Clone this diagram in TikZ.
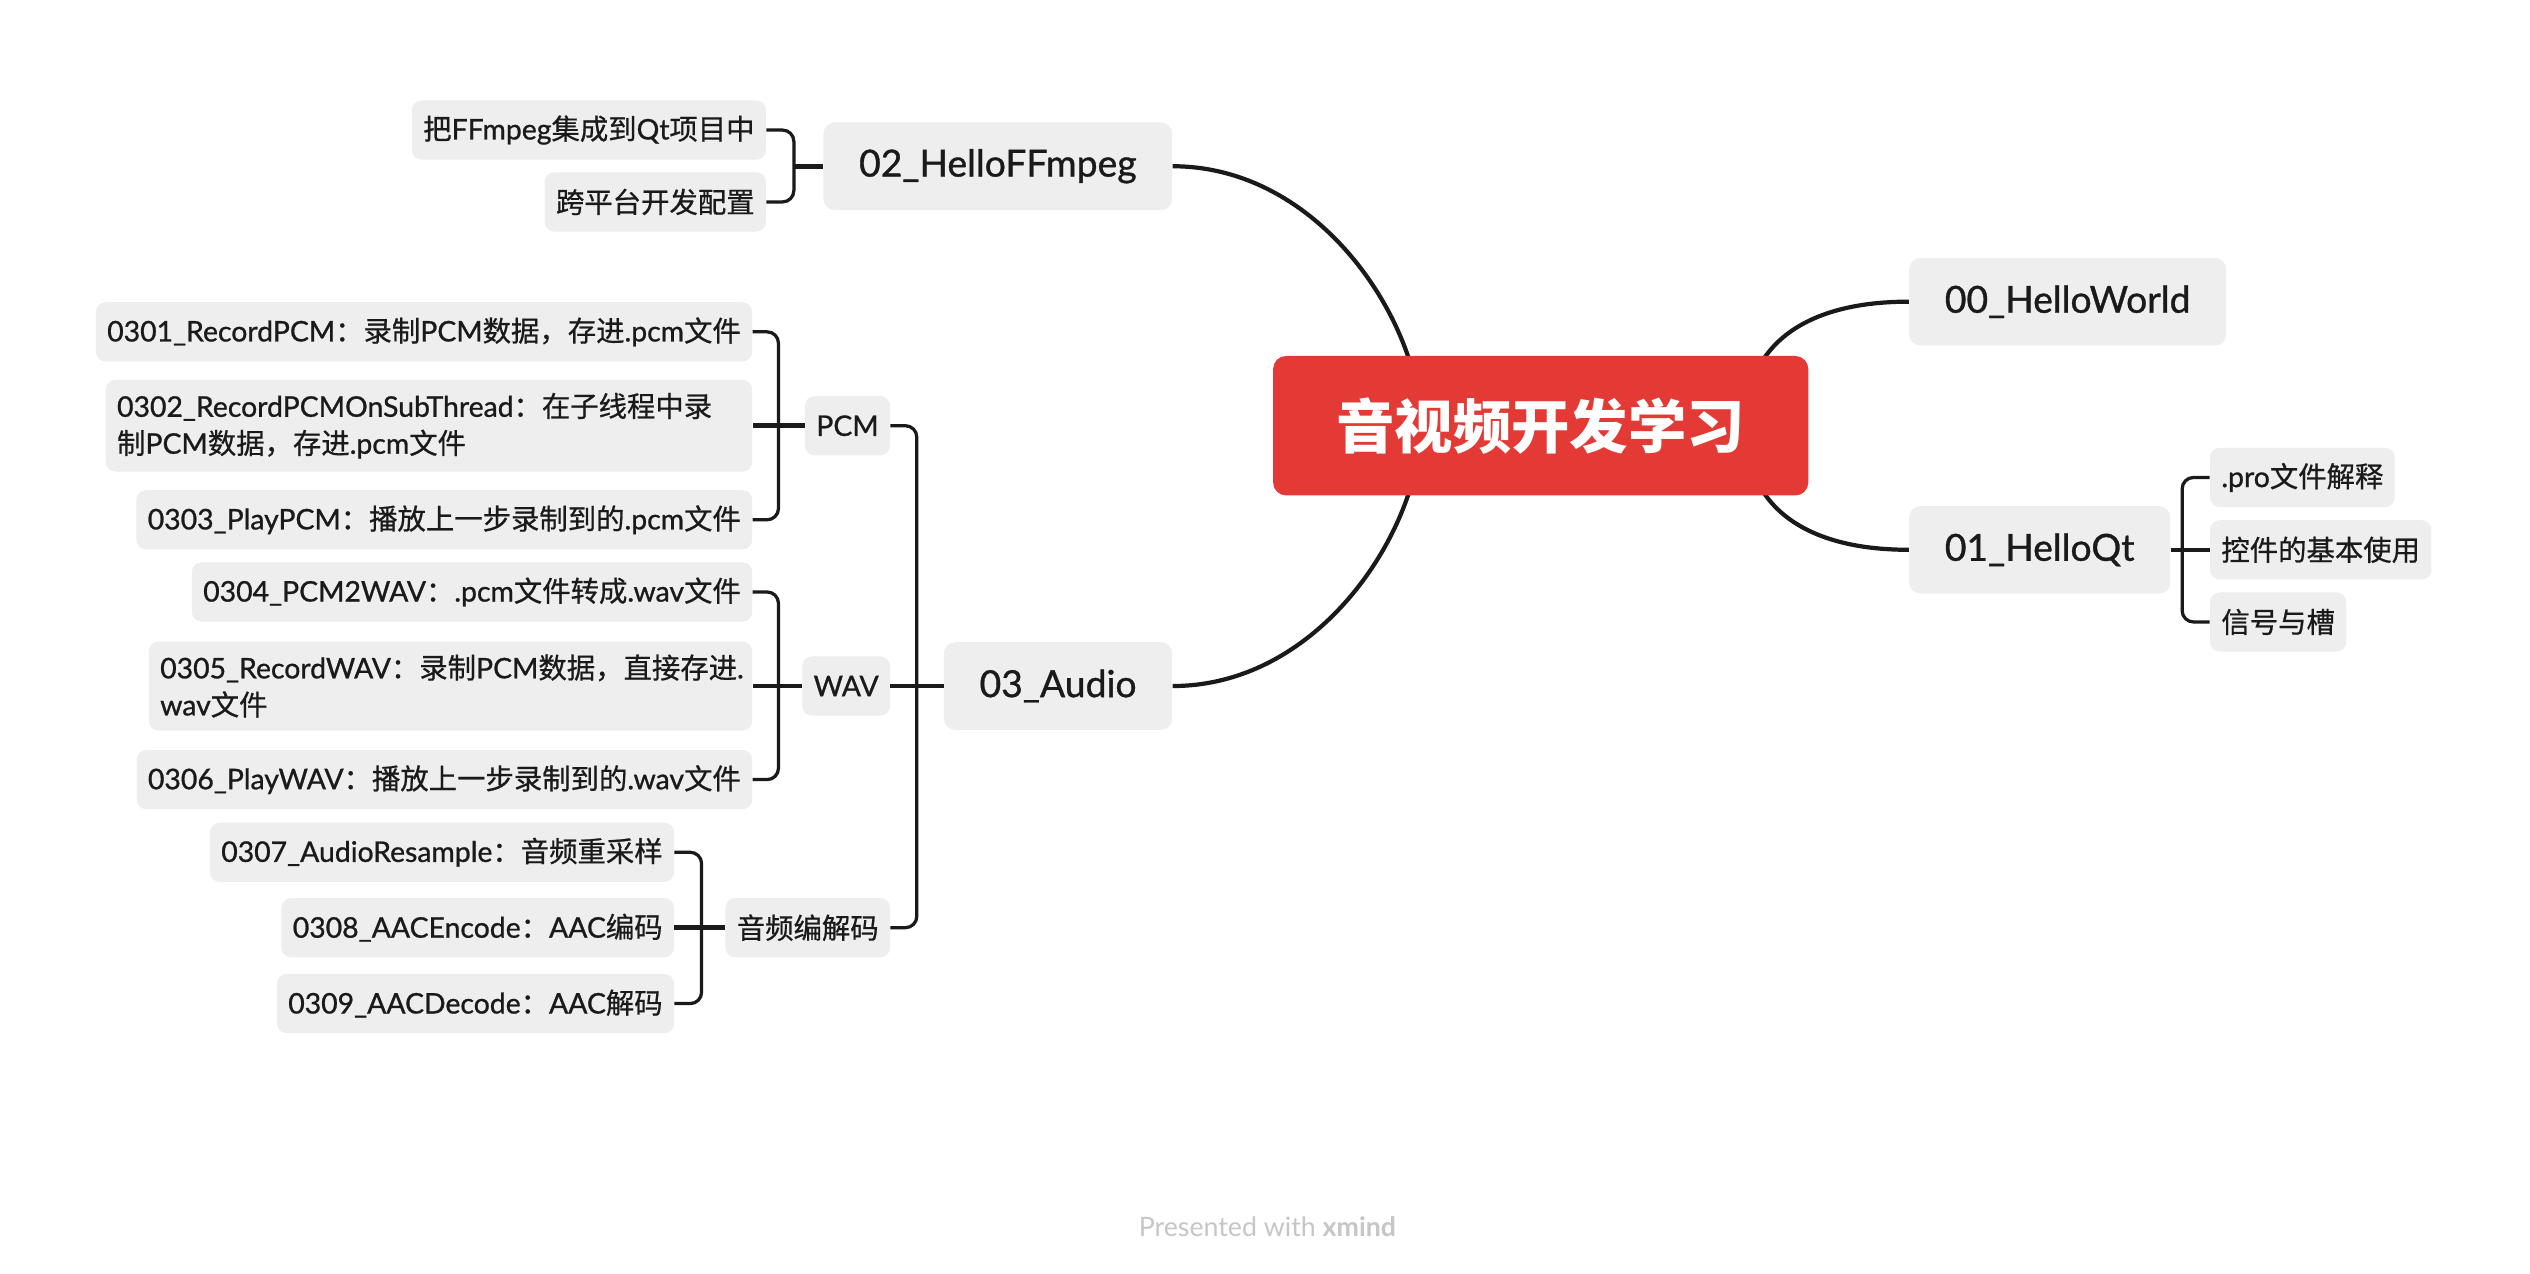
\documentclass[tikz,border=0pt]{standalone}
\usepackage{fontspec}
\setmainfont{Noto Sans CJK SC}[UprightFeatures={FakeBold=0.7}]
\newfontfamily\cjkfont{Noto Sans CJK SC}[UprightFeatures={FakeBold=0.7}]
\newfontfamily\latinfont{Lato}[UprightFeatures={FakeBold=0.9}]
\newfontfamily\footfont{Lato}
\usetikzlibrary{backgrounds}
% CJK characters in Noto, everything else in Lato
\XeTeXinterchartokenstate=1
\newXeTeXintercharclass\cjkchars
\newcount\cjkcnt
\newcommand\setcjkrange[2]{%
  \cjkcnt=#1\relax
  \loop
    \XeTeXcharclass\cjkcnt=\cjkchars
  \ifnum\cjkcnt<#2\relax
    \advance\cjkcnt by 1
  \repeat}
\setcjkrange{"3000}{"303F}
\setcjkrange{"4E00}{"9FFF}
\setcjkrange{"FF00}{"FFEF}
\XeTeXinterchartoks 0 \cjkchars = {\cjkfont}
\XeTeXinterchartoks 4095 \cjkchars = {\cjkfont}
\XeTeXinterchartoks \cjkchars 0 = {\latinfont}
\XeTeXinterchartoks 4095 0 = {\latinfont}
\newcommand\plainlatin{\XeTeXinterchartokenstate=0\relax\footfont}
\definecolor{rootred}{HTML}{E43A36}
\definecolor{boxgray}{HTML}{EEEEEE}
\definecolor{inkblack}{HTML}{1A1A1A}
\definecolor{footgray}{HTML}{C6C6C6}
\tikzset{
  rootbox/.style={fill=rootred, text=white, rounded corners=8pt,
    minimum width=330pt, minimum height=86pt,
    font=\bfseries\fontsize{36}{42}\selectfont},
  topicbox/.style={fill=boxgray, text=inkblack, rounded corners=7pt,
    inner xsep=22pt, inner ysep=0pt, minimum height=54pt,
    font=\fontsize{23}{27}\selectfont},
  leafbox/.style={fill=boxgray, text=inkblack, rounded corners=6pt,
    inner xsep=7pt, inner ysep=8pt, minimum height=36.5pt, align=left,
    font=\fontsize{17.5}{22.8}\selectfont},
  creditline/.style={text=footgray,
    font=\plainlatin\fontsize{16.5}{20}\selectfont},
  branch/.style={draw=inkblack, line width=2.6pt},
  stub/.style={draw=inkblack, line width=2.8pt},
  spine/.style={draw=inkblack, line width=2pt, rounded corners=7pt},
}
\begin{document}
\begin{tikzpicture}[x=1pt,y=-1pt]
  \useasboundingbox (0,0) rectangle (1560,785.5);
  % main topic
  \node[rootbox] (root) at (950,262.5) {音视频开发学习};
  \coordinate (rootL) at (876,262.5);
  \coordinate (rootR) at (1076,262.5);
  % right side
  \node[topicbox, anchor=west] (n00) at (1177,186) {00\_HelloWorld};
  \node[topicbox, anchor=west] (n01) at (1177,339) {01\_HelloQt};
  \node[leafbox, anchor=west] (n0101) at (1362.5,294.4) {.pro文件解释};
  \node[leafbox, anchor=west] (n0102) at (1362.5,339) {控件的基本使用};
  \node[leafbox, anchor=west] (n0103) at (1362.5,383.5) {信号与槽};
  % left side, top
  \node[topicbox, anchor=east] (n02) at (723,102.5) {02\_HelloFFmpeg};
  \node[leafbox, anchor=east] (n0201) at (472.5,80.2) {把FFmpeg集成到Qt项目中};
  \node[leafbox, anchor=east] (n0202) at (472.5,124.5) {跨平台开发配置};
  % left side, audio
  \node[topicbox, anchor=east] (aud) at (723,423) {03\_Audio};
  \node[leafbox, anchor=east] (pcm) at (549,262.5) {PCM};
  \node[leafbox, anchor=east] (wav) at (549,423) {WAV};
  \node[leafbox, anchor=east] (codec) at (549,572) {音频编解码};
  \node[leafbox, anchor=east] (r0301) at (464,204.6) {0301\_RecordPCM：录制PCM数据，存进.pcm文件};
  \node[leafbox, anchor=east, text width=384.6pt] (r0302) at (464,262.5) {0302\_RecordPCMOnSubThread：在子线程中录\\制PCM数据，存进.pcm文件};
  \node[leafbox, anchor=east] (r0303) at (464,320.5) {0303\_PlayPCM：播放上一步录制到的.pcm文件};
  \node[leafbox, anchor=east] (r0304) at (464,365) {0304\_PCM2WAV：.pcm文件转成.wav文件};
  \node[leafbox, anchor=east, text width=358pt] (r0305) at (464,423) {0305\_RecordWAV：录制PCM数据，直接存进.\\wav文件};
  \node[leafbox, anchor=east] (r0306) at (464,480.7) {0306\_PlayWAV：播放上一步录制到的.wav文件};
  \node[leafbox, anchor=east] (r0307) at (415.8,525.5) {0307\_AudioResample：音频重采样};
  \node[leafbox, anchor=east] (r0308) at (415.8,572) {0308\_AACEncode：AAC编码};
  \node[leafbox, anchor=east] (r0309) at (415.8,618.8) {0309\_AACDecode：AAC解码};
  \node[creditline] (credit) at (781.5,756.4) {Presented with \textbf{xmind}};
  % spine points of the brackets
  \coordinate (sp01) at (1345.5,339);
  \coordinate (sp02) at (489.5,102.5);
  \coordinate (spaud) at (565.3,423);
  \coordinate (sppcm) at (480,262.5);
  \coordinate (spwav) at (480,423);
  \coordinate (spcodec) at (432.6,572);
  \begin{scope}[on background layer]
    \fill[white] (0,0) rectangle (1560,785.5);
    \draw[branch] (rootL) .. controls +(0,-62.5) and +(92,0) .. (n02.east);
    \draw[branch] (rootL) .. controls +(0,62.5) and +(92,0) .. (aud.east);
    \draw[branch] (rootR) .. controls +(0,-47.5) and +(-67,0) .. (n00.west);
    \draw[branch] (rootR) .. controls +(0,47.5) and +(-67,0) .. (n01.west);
  \end{scope}
  \begin{scope}
    \draw[stub] (n01.east) -- (n0102.west);
    \draw[spine] (n0101.west) -| (sp01) |- (n0103.west);
    \draw[stub] (n02.west) -- (sp02);
    \draw[spine] (n0201.east) -| (sp02) |- (n0202.east);
    \draw[stub] (aud.west) -- (wav.east);
    \draw[spine] (pcm.east) -| (spaud) |- (codec.east);
    \draw[stub] (pcm.west) -- (r0302.east);
    \draw[spine] (r0301.east) -| (sppcm) |- (r0303.east);
    \draw[stub] (wav.west) -- (r0305.east);
    \draw[spine] (r0304.east) -| (spwav) |- (r0306.east);
    \draw[stub] (codec.west) -- (r0308.east);
    \draw[spine] (r0307.east) -| (spcodec) |- (r0309.east);
  \end{scope}
\end{tikzpicture}
\end{document}
